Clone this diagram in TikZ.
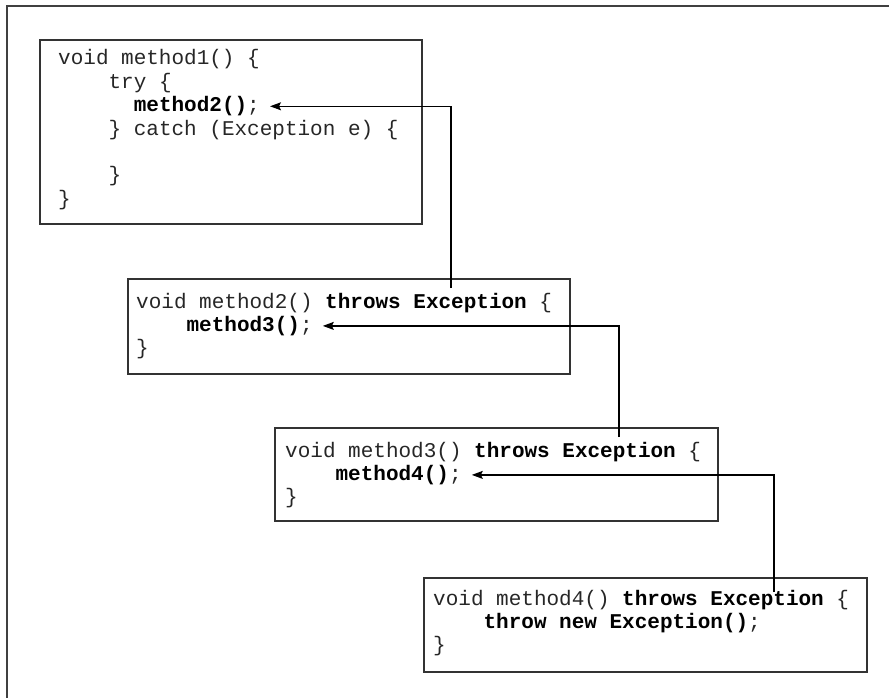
\documentclass[tikz,border=0pt]{standalone}
\usepackage{fontspec}
\setmonofont{Liberation Mono}
\usetikzlibrary{arrows.meta}
\begin{document}
\begin{tikzpicture}[x=1pt,y=-1pt,
  codebox/.style={draw=black!80,line width=1.6pt,anchor=north west,inner sep=0pt},
  code/.style={anchor=base west,inner sep=0pt,text height=15pt,text depth=4pt,text=black!85,
    font=\ttfamily\fontsize{21}{23.4}\selectfont},
  link/.style={line width=1.2pt,-{Stealth[length=11pt,width=8pt,inset=2pt]},shorten >=10pt}]
\useasboundingbox (0,0) rectangle (889,698);
% outer frame (top and left only)
\draw[line width=2pt,black!75] (889,6.5) -- (6.5,6.5) -- (6.5,698);
\def\cw{12.6}
% box 1
\node[codebox,minimum width=382pt,minimum height=184pt] (b1) at (39,39) {};
\node[code] (l11) at (58,65) {void method1() \{};
\node[code] (l12) at (58+4*\cw,88.4) {try \{};
\node[code] (c2) at (58+6*\cw,111.8) {\textcolor{black}{\textbf{method2()}};};
\node[code] (l14) at (58+4*\cw,135.2) {\} catch (Exception e) \{};
\node[code] (l15) at (58+4*\cw,182) {\}};
\node[code] (l16) at (58,205.4) {\}};
% box 2
\node[codebox,minimum width=442pt,minimum height=95pt] (b2) at (127,278) {};
\node[code] (l21) at (136,308) {void method2() \textcolor{black}{\textbf{throws Exception}} \{};
\node[code] (c3) at (136+4*\cw,331.4) {\textcolor{black}{\textbf{method3()}};};
\node[code] (l23) at (136,354.8) {\}};
% box 3
\node[codebox,minimum width=443pt,minimum height=93pt] (b3) at (274,427) {};
\node[code] (l31) at (285,457) {void method3() \textcolor{black}{\textbf{throws Exception}} \{};
\node[code] (c4) at (285+4*\cw,480.4) {\textcolor{black}{\textbf{method4()}};};
\node[code] (l33) at (285,503.8) {\}};
% box 4
\node[codebox,minimum width=443pt,minimum height=94pt] (b4) at (423,577) {};
\node[code] (l41) at (433,605) {void method4() \textcolor{black}{\textbf{throws Exception}} \{};
\node[code] (l42) at (433+4*\cw,628.4) {\textcolor{black}{\textbf{throw new Exception()}};};
\node[code] (l43) at (433,651.8) {\}};
% connectors
\coordinate (t2) at (451,288);
\coordinate (t3) at (619,437);
\coordinate (t4) at (774,592);
\draw[link] (t2) |- (c2.east);
\draw[link] (t3) |- (c3.east);
\draw[link] (t4) |- (c4.east);
\end{tikzpicture}
\end{document}
